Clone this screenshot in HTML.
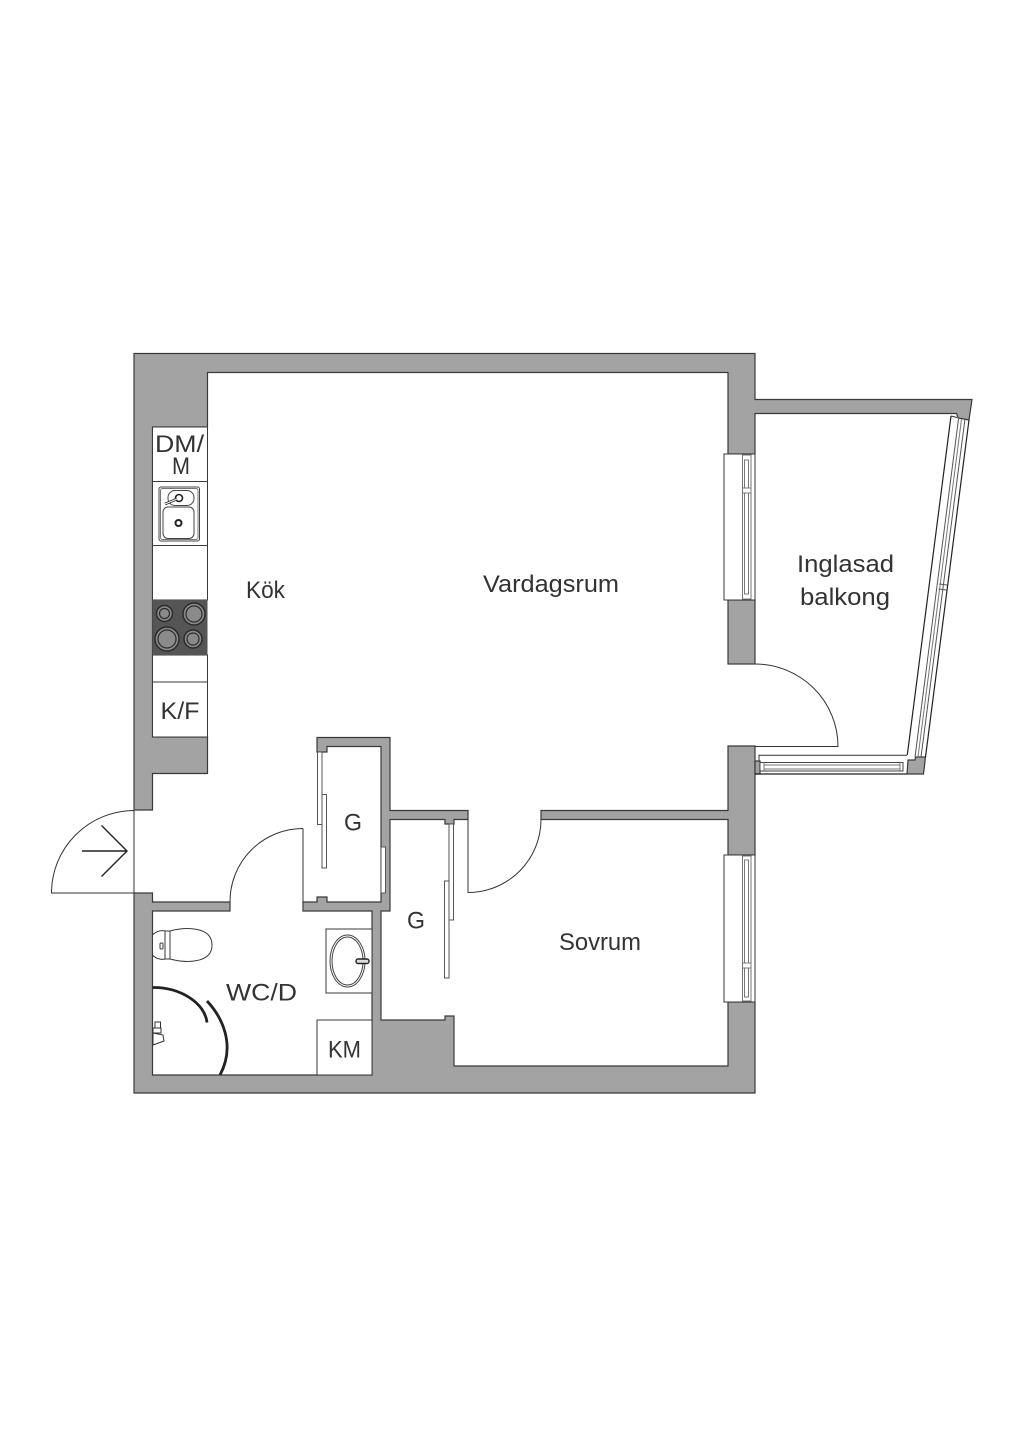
<!DOCTYPE html>
<html><head><meta charset="utf-8"><style>
html,body{margin:0;padding:0;background:#fff}
svg{display:block}
text{font-family:"Liberation Sans",sans-serif;font-size:24px;fill:#333}
</style></head><body>
<svg width="1024" height="1448" viewBox="0 0 1024 1448" xmlns="http://www.w3.org/2000/svg">
<rect width="1024" height="1448" fill="#fff"/>
<g fill="#a3a3a3" stroke="#3a3a3a" stroke-width="1.2" stroke-linejoin="miter">
<path d="M134,810 L134,353.5 L755,353.5 L755,399.5 L972,399.5 L969,420 L958,418 L956.7,413.5 L755,413.5 L755,454 L728,454 L728,372.5 L207.5,372.5 L207.5,427 L152.5,427 L152.5,737 L207.5,737 L207.5,773.5 L152.5,773.5 L152.5,810 Z"/>
<rect x="728" y="600" width="27" height="64"/>
<path d="M728,746 L755,746 L755,855 L728,855 L728,819.5 L541,819.5 L541,810.5 L728,810.5 Z"/>
<path d="M134,893 L134,1093 L755,1093 L755,1002 L728,1002 L728,1066 L454,1066 L454,1016 L445,1016 L445,1020 L381,1020 L381,911 L390,911 L390,819.5 L445,819.5 L445,824 L454,824 L454,819.5 L468,819.5 L468,810.5 L390,810.5 L390,737.5 L317,737.5 L317,752 L327,752 L327,746.5 L381,746.5 L381,902 L327,902 L327,897 L317,897 L317,902 L303,902 L303,911 L372,911 L372,1075 L152.5,1075 L152.5,911 L230,911 L230,902 L152.5,902 L152.5,893 Z"/>
<path d="M755,761 L760,761 L760,774 L755,774 Z"/>
<path d="M907,774 L923.5,774 L925.5,757 L915.5,757 L915,760 L908,760 Z"/>
</g>
<!-- kitchen -->
<g fill="#fff" stroke="#3a3a3a" stroke-width="1">
<rect x="152.5" y="427" width="55" height="54.5"/>
<rect x="152.5" y="481.5" width="55" height="64"/>
<rect x="152.5" y="545.5" width="55" height="54.5"/>
<rect x="152.5" y="655" width="55" height="27"/>
<rect x="152.5" y="682" width="55" height="55"/>
</g>
<rect x="152.5" y="600" width="55" height="55" fill="#555"/>
<g fill="#8a8a8a" stroke="#2b2b2b" stroke-width="1.5">
<circle cx="164.5" cy="613.5" r="8"/><circle cx="194" cy="614" r="11"/><circle cx="167" cy="639" r="12"/><circle cx="193" cy="639" r="9"/>
</g>
<g fill="none" stroke="#2b2b2b" stroke-width="1.2">
<circle cx="164.5" cy="613.5" r="5"/><circle cx="194" cy="614" r="8"/><circle cx="167" cy="639" r="9"/><circle cx="193" cy="639" r="6"/>
</g>
<!-- sink -->
<g fill="none" stroke="#444" stroke-width="1">
<rect x="159" y="487" width="40.5" height="54" rx="2"/>
<rect x="160.5" y="488.5" width="37.5" height="51" rx="2" stroke="#777"/>
<rect x="168" y="490.5" width="26" height="15" rx="7"/>
<rect x="163" y="507" width="31" height="31.5" rx="5"/>
</g>
<circle cx="178.5" cy="523" r="3" fill="#fff" stroke="#222" stroke-width="2"/>
<circle cx="179" cy="498" r="3.5" fill="#fff" stroke="#222" stroke-width="1.6"/>
<path d="M165,504 L177,499" stroke="#222" stroke-width="2.6"/>
<path d="M165,504 L177,499" stroke="#fff" stroke-width="1"/>
<!-- windows right -->
<g fill="#fff" stroke="#3a3a3a" stroke-width="1">
<rect x="724" y="454" width="31" height="146"/>
<rect x="724" y="855" width="31" height="147"/>
</g>
<g fill="#fff" stroke="#777" stroke-width="1">
<rect x="742.5" y="455" width="8.5" height="144"/>
<rect x="744.5" y="460" width="4" height="134"/>
<rect x="742.5" y="856" width="8.5" height="145"/>
<rect x="744.5" y="860" width="4" height="137"/>
<rect x="742.5" y="488" width="8.5" height="5"/>
<rect x="742.5" y="963" width="8.5" height="5"/>
</g>
<!-- balcony glazing right -->
<g fill="none" stroke="#333" stroke-width="1">
<path d="M951,416 L957,417.5"/>
</g>
<path d="M951,416 L907.3,755" stroke="#222" stroke-width="1.2"/>
<path d="M958.5,419 L915,757" stroke="#555" stroke-width="1"/>
<path d="M961.5,419 L918,757" stroke="#777" stroke-width="1"/>
<path d="M965,419 L921,757" stroke="#555" stroke-width="1"/>
<path d="M969,420 L925.5,757" stroke="#222" stroke-width="1.2"/>
<path d="M939.3,584 L947,585 M938.7,589 L946.4,590" stroke="#555" stroke-width="1"/>
<!-- balcony glazing bottom -->
<path d="M759,761 L759,755.3 L907,755.3" fill="none" stroke="#333" stroke-width="1"/>
<path d="M760,762.5 L903,762.5 L903,771 L760,771 Z" fill="#fff" stroke="#444" stroke-width="1"/>
<path d="M764,765 L900,765 M764,769 L900,769 M764,762.5 L764,771 M900,762.5 L900,771" stroke="#777" stroke-width="1"/>
<path d="M755,774 L907,774" stroke="#222" stroke-width="1.2"/>
<!-- closet doors -->
<g fill="#fff" stroke="#555" stroke-width="1">
<rect x="317.5" y="752" width="4.5" height="72.5"/>
<rect x="322" y="794.5" width="4.5" height="73.5"/>
<rect x="449" y="824" width="4.5" height="96"/>
<rect x="444.5" y="881" width="4.5" height="97"/>
<rect x="381" y="847" width="4.5" height="46"/>
</g>
<!-- door swings -->
<g fill="none" stroke="#333" stroke-width="1">
<path d="M134,810.5 A83,82.5 0 0 0 51.5,893 L134,893 L134,810.5"/>
<path d="M303,828.5 A73,73 0 0 0 230,901.5"/>
<path d="M303,828.5 L303,902"/>
<path d="M541,819.5 A73,73 0 0 1 468,892.5 L468,819.5"/>
<path d="M755,664 A83,82.5 0 0 1 838,746.5 L755,746.5"/>
</g>
<path d="M82,851 L127,851 M101.5,825.5 L127,851 L101.5,876.5" fill="none" stroke="#222" stroke-width="1.4"/>
<!-- WC -->
<g fill="#fff" stroke="#3a3a3a" stroke-width="1">
<path d="M170,931 C185,927 212,926 212,945 C212,964 185,963 170,959 Z"/>
<path d="M152.5,935 C156,931 162,930 165,931 L170,931 L170,959 L165,959 C162,960 156,959 152.5,955 Z"/>
<path d="M165,931 L165,959"/>
<rect x="160" y="943" width="3" height="6" rx="1"/>
<rect x="326" y="929" width="46" height="64" />
<rect x="317" y="1020" width="55" height="55"/>
</g>
<ellipse cx="347.5" cy="961" rx="17.5" ry="26" fill="#fff" stroke="#444" stroke-width="1"/>
<ellipse cx="347.5" cy="961" rx="15.5" ry="24" fill="#fff" stroke="#444" stroke-width="1"/>
<rect x="356" y="959" width="13" height="4.5" rx="2" fill="#ddd" stroke="#222" stroke-width="1.4"/>
<path d="M152.5,987.5 C180,987 205,1003 207,1022.5" fill="none" stroke="#222" stroke-width="2.8"/>
<path d="M207,1001 C222,1017 236,1045 220,1075" fill="none" stroke="#222" stroke-width="2.8"/>
<g fill="#fff" stroke="#333" stroke-width="1">
<rect x="155" y="1022" width="5.5" height="6"/>
<rect x="153" y="1028" width="8" height="5"/>
<path d="M153,1033 L163,1035 L164,1041 L153,1045 Z"/>
</g>
<!-- labels -->
<text x="155" y="452" textLength="49" lengthAdjust="spacingAndGlyphs">DM/</text>
<text x="172" y="474" textLength="18" lengthAdjust="spacingAndGlyphs">M</text>
<text x="160.5" y="719" textLength="39" lengthAdjust="spacingAndGlyphs">K/F</text>
<text x="246" y="598" textLength="39" lengthAdjust="spacingAndGlyphs">Kök</text>
<text x="483" y="592" textLength="136" lengthAdjust="spacingAndGlyphs">Vardagsrum</text>
<text x="797" y="572" textLength="97" lengthAdjust="spacingAndGlyphs">Inglasad</text>
<text x="800" y="605" textLength="90" lengthAdjust="spacingAndGlyphs">balkong</text>
<text x="559" y="950" textLength="82" lengthAdjust="spacingAndGlyphs">Sovrum</text>
<text x="344" y="830.5" textLength="18" lengthAdjust="spacingAndGlyphs">G</text>
<text x="407" y="928.5" textLength="18" lengthAdjust="spacingAndGlyphs">G</text>
<text x="226" y="1000.5" textLength="71" lengthAdjust="spacingAndGlyphs">WC/D</text>
<text x="328" y="1057.5" textLength="33" lengthAdjust="spacingAndGlyphs">KM</text>
</svg>
</body></html>
